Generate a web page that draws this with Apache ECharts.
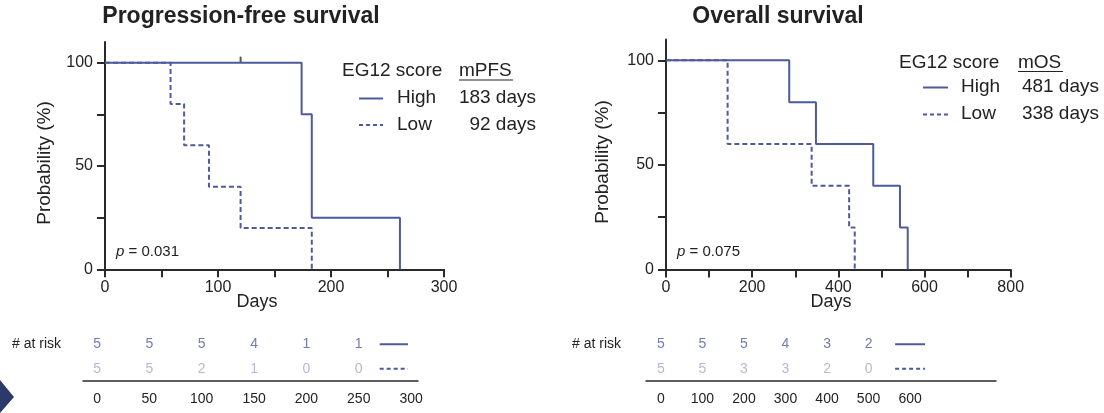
<!DOCTYPE html>
<html>
<head>
<meta charset="utf-8">
<script src="https://cdn.jsdelivr.net/npm/echarts@6/dist/echarts.min.js"></script>
<style>html,body{margin:0;padding:0;background:#fff;}#chart{width:1104px;height:413px;}</style>
</head>
<body>
<div id="chart"></div>
<script>
// ---- Data ----
const pfsHigh = [[0,100],[174,75],[183,25],[261,0]];
const pfsLow = [[0,100],[58,80],[70,60],[92,40],[120,20],[183,0]];
const pfsHighCensor = [[120,100]];
const osHigh = [[0,100],[286,80],[348,60],[481,40],[543,20],[561,0]];
const osLow = [[0,100],[143,60],[338,40],[425,20],[438,0]];

const pfsRiskTimes = [0,50,100,150,200,250];
const pfsRiskHigh = [5,5,5,4,1,1];
const pfsRiskLow = [5,5,2,1,0,0];
const pfsTableLabels = [0,50,100,150,200,250,300];

const osRiskTimes = [0,100,200,300,400,500];
const osRiskHigh = [5,5,5,4,3,2];
const osRiskLow = [5,5,3,3,2,0];
const osTableLabels = [0,100,200,300,400,500,600];

const pfsXTicks = [0,50,100,150,200,250,300];
const pfsXLabels = [0,100,200,300];
const osXTicks = [0,100,200,300,400,500,600,700,800];
const osXLabels = [0,200,400,600,800];
const yTicks = [0,25,50,75,100];
const yLabels = [0,50,100];

// ---- Styles ----
const FONT = '"Liberation Sans", Arial, Helvetica, sans-serif';
const LINE = '#4e5a9c';
const LIGHT = '#a3a8c8';
const AX = '#2a2a2a';
const TXT = '#222';

const chart = echarts.init(document.getElementById('chart'), null, {renderer:'canvas'});

function xAxisMain(gi, max, ticks, labels) {
  return {
    type:'value', gridIndex:gi, min:0, max:max, interval:ticks[1]-ticks[0],
    axisLine:{show:true, lineStyle:{color:AX, width:2}},
    axisTick:{show:true, inside:false, length:8, lineStyle:{color:AX, width:2}, customValues:ticks},
    axisLabel:{show:true, margin:10, fontSize:16, fontFamily:FONT, color:TXT, customValues:labels},
    splitLine:{show:false}
  };
}
function yAxisMain(gi) {
  return {
    type:'value', gridIndex:gi, min:0, max:110, interval:25,
    axisLine:{show:true, onZero:false, lineStyle:{color:AX, width:2}},
    axisTick:{show:true, inside:false, length:8, lineStyle:{color:AX, width:2}, customValues:yTicks},
    axisLabel:{show:true, margin:12, fontSize:16, fontFamily:FONT, color:TXT, customValues:yLabels},
    splitLine:{show:false}
  };
}
function xAxisTable(gi, min, max, labels) {
  return {
    type:'value', gridIndex:gi, min:min, max:max,
    axisLine:{show:true, onZero:false, lineStyle:{color:AX, width:1.5}},
    axisTick:{show:false},
    axisLabel:{show:true, margin:11, fontSize:14, fontFamily:FONT, color:TXT, customValues:labels},
    splitLine:{show:false}
  };
}
function yAxisTable(gi) {
  return {type:'value', gridIndex:gi, min:0, max:4, show:false};
}
function stepSeries(xi, data, dashed) {
  return {
    type:'line', xAxisIndex:xi, yAxisIndex:xi, data:data, step:'end',
    showSymbol:false, symbol:'none', silent:true,
    lineStyle:{color:LINE, width:2, type: dashed ? [5,3] : 'solid'}
  };
}
function riskSeries(xi, times, vals, row, color) {
  return {
    type:'scatter', xAxisIndex:xi, yAxisIndex:xi, symbolSize:1,
    itemStyle:{color:'rgba(0,0,0,0)'},
    data: times.map((t,i)=>[t,row,vals[i]]),
    label:{show:true, position:'inside', formatter:p=>String(p.value[2]),
      fontSize:14, fontFamily:FONT, color:color}
  };
}
function keySeries(xi, x0, x1, row, dashed) {
  return {
    type:'line', xAxisIndex:xi, yAxisIndex:xi, data:[[x0,row],[x1,row]],
    showSymbol:false, symbol:'none', silent:true,
    lineStyle:{color:LINE, width:2, type: dashed ? [4,3] : 'solid'}
  };
}
function txt(x, y, text, size, opt) {
  opt = opt || {};
  return {
    type:'text', x:x, y:y, rotation: opt.rotation || 0, silent:true,
    style:{text:text, fill: opt.fill || TXT,
      font: (opt.bold ? 'bold ' : '') + size + 'px ' + FONT,
      align: opt.align || 'left', verticalAlign:'middle', rich: opt.rich}
  };
}
function seg(x1,y1,x2,y2,dash,w) {
  return {type:'line', silent:true, shape:{x1:x1,y1:y1,x2:x2,y2:y2},
    style:{stroke: LINE, lineWidth: w||2, lineDash: dash || null}};
}

const option = {
  animation:false,
  backgroundColor:'#fff',
  grid:[
    {left:105, top:42, width:339, height:227.3},
    {left:666, top:39.4, width:344.7, height:230},
    {left:83, top:332, width:335, height:49},
    {left:646, top:332, width:350, height:49}
  ],
  xAxis:[
    xAxisMain(0, 300, pfsXTicks, pfsXLabels),
    xAxisMain(1, 800, osXTicks, osXLabels),
    xAxisTable(2, -13.4, 306.6, pfsTableLabels),
    xAxisTable(3, -36, 807, osTableLabels)
  ],
  yAxis:[yAxisMain(0), yAxisMain(1), yAxisTable(2), yAxisTable(3)],
  series:[
    stepSeries(0, pfsHigh, false),
    stepSeries(0, pfsLow, true),
    {type:'scatter', xAxisIndex:0, yAxisIndex:0, data:pfsHighCensor, symbol:'rect',
      symbolSize:[2,6], symbolOffset:[0,-3], itemStyle:{color:AX}, silent:true},
    stepSeries(1, osHigh, false),
    stepSeries(1, osLow, true),
    riskSeries(2, pfsRiskTimes, pfsRiskHigh, 3, LINE),
    riskSeries(2, pfsRiskTimes, pfsRiskLow, 1, LIGHT),
    keySeries(2, 270, 297, 3, false),
    keySeries(2, 270, 297, 1, true),
    riskSeries(3, osRiskTimes, osRiskHigh, 3, LINE),
    riskSeries(3, osRiskTimes, osRiskLow, 1, LIGHT),
    keySeries(3, 564, 636, 3, false),
    keySeries(3, 564, 636, 1, true)
  ],
  graphic:[
    txt(241, 17, 'Progression-free survival', 23, {bold:true, align:'center'}),
    txt(778, 17, 'Overall survival', 23, {bold:true, align:'center'}),
    txt(45, 163, 'Probability (%)', 19, {align:'center', rotation:Math.PI/2}),
    txt(603, 162, 'Probability (%)', 19, {align:'center', rotation:Math.PI/2}),
    txt(257, 302, 'Days', 18, {align:'center'}),
    txt(831, 302, 'Days', 18, {align:'center'}),
    txt(116, 252, '{i|p} = 0.031', 15, {rich:{i:{fontStyle:'italic', fontSize:15, fontFamily:FONT, fill:TXT}}}),
    txt(677, 252, '{i|p} = 0.075', 15, {rich:{i:{fontStyle:'italic', fontSize:15, fontFamily:FONT, fill:TXT}}}),
    // PFS legend
    txt(342, 71, 'EG12 score', 19),
    txt(459, 71, 'mPFS', 19),
    {type:'line', silent:true, shape:{x1:459,y1:80,x2:513,y2:80}, style:{stroke:TXT, lineWidth:1.2}},
    seg(359, 98.5, 383, 98.5),
    seg(359, 125, 383, 125, [4,3]),
    txt(397, 98, 'High', 19),
    txt(397, 125, 'Low', 19),
    txt(536, 98, '183 days', 19, {align:'right'}),
    txt(536, 125, '92 days', 19, {align:'right'}),
    // OS legend
    txt(899, 63, 'EG12 score', 19),
    txt(1018, 63, 'mOS', 19),
    {type:'line', silent:true, shape:{x1:1018,y1:71.5,x2:1063,y2:71.5}, style:{stroke:TXT, lineWidth:1.2}},
    seg(923, 87.5, 948, 87.5),
    seg(923, 114.5, 948, 114.5, [4,3]),
    txt(961, 87, 'High', 19),
    txt(961, 114, 'Low', 19),
    txt(1099, 87, '481 days', 19, {align:'right'}),
    txt(1099, 114, '338 days', 19, {align:'right'}),
    // at risk headers
    txt(12, 344, '# at risk', 14),
    txt(572, 344, '# at risk', 14),
    // decoration
    {type:'polygon', silent:true, shape:{points:[[0,380],[14,397],[0,413]]}, style:{fill:'#2b3a6b'}}
  ]
};
chart.setOption(option);
</script>
</body>
</html>
